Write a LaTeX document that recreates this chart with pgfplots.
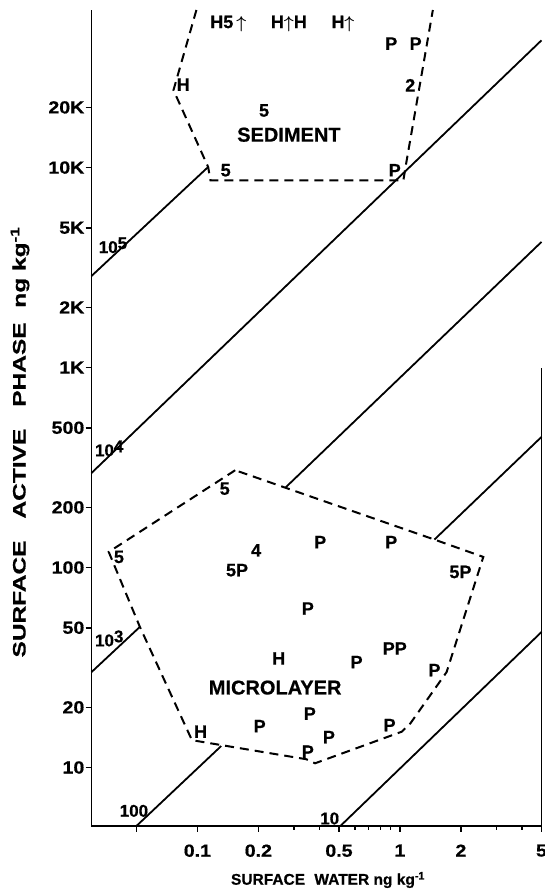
\documentclass[border=0pt]{standalone}
\usepackage{fontspec}
\setmainfont{Liberation Sans}[BoldFeatures={FakeBold=0.6}]
\newfontfamily\tickfont{Liberation Sans}[FakeStretch=1.12, BoldFeatures={FakeBold=0.6}]
\usepackage{graphicx}
\usepackage{pgfplots}
\pgfplotsset{compat=1.18}
\begin{document}
\begin{tikzpicture}
\useasboundingbox (-91.5pt,-67pt) rectangle (453.5pt,826pt);
\begin{axis}[
  at={(0pt,0pt)}, anchor=south west,
  scale only axis, width=450pt, height=816pt,
  xmode=log, ymode=log,
  xmin=0.03, xmax=5, ymin=5.1, ymax=61400,
  axis x line*=bottom, axis y line*=left,
  axis line style={line width=1.8pt},
  xtick={0.05,0.1,0.2,0.5,1,2,5}, xticklabels={,0.1,0.2,0.5,1,2,5},
  minor xtick={0.3,0.4,0.6,0.7,0.8,0.9,3,4},
  ytick={10,20,50,100,200,500,1000,2000,5000,10000,20000},
  yticklabels={10,20,50,100,200,500,1K,2K,5K,10K,20K},
  tick align=outside, major tick length=6pt, minor tick length=4pt,
  every tick/.style={line width=1.6pt, black},
  tick label style={font=\tickfont\fontsize{17.5}{19}\selectfont\bfseries},
  yticklabel style={inner sep=1pt},
  xticklabel style={yshift=-9pt},
  xlabel={SURFACE\hspace{0.6em}WATER ng kg\textsuperscript{-1}},
  ylabel={\scalebox{1.36}[1]{SURFACE\hspace{0.9em}ACTIVE\hspace{0.9em}PHASE\hspace{0.6em}ng kg\textsuperscript{-1}}},
  every axis x label/.style={at={(axis description cs:0.5256,-0.0662)}, anchor=center, font=\fontsize{15.5}{17}\selectfont\bfseries},
  every axis y label/.style={at={(axis description cs:-0.159,0.4706)}, anchor=center, rotate=90, font=\fontsize{18}{20}\selectfont\bfseries},
  clip=false,
  txt/.style={only marks, mark=none, point meta=explicit symbolic, nodes near coords,
    every node near coord/.append style={anchor=center, inner sep=0pt, font=\fontsize{18}{20}\selectfont\bfseries}},
]
% ratio lines
\addplot[line width=1.8pt, black] coordinates {(0.03,2870) (0.113,10070)};
\addplot[line width=1.8pt, black] coordinates {(0.03,297) (5,43300)};
\addplot[line width=1.8pt, black] coordinates {(0.03,30) (0.052,50.5)};
\addplot[line width=1.8pt, black] coordinates {(0.272,251) (5,4250)};
\addplot[line width=1.8pt, black] coordinates {(0.050,5.1) (0.131,12.8)};
\addplot[line width=1.8pt, black] coordinates {(1.48,138) (5,450)};
\addplot[line width=1.8pt, black] coordinates {(0.508,5.1) (5,47.6)};
% sediment envelope
\addplot[line width=2pt, black, dash pattern=on 9pt off 6pt] coordinates {
 (0.0989,61400) (0.0762,24400) (0.113,10070) (0.116,8640) (1.04,8640) (1.07,10300) (1.454,61400)};
% microlayer envelope
\addplot[line width=2pt, black, dash pattern=on 9pt off 6pt] coordinates {
 (0.1537,306.6) (0.0365,119.7) (0.052,50.5) (0.094,13.7) (0.134,12.9) (0.345,11.0) (0.381,10.5)
 (1.02,15.1) (1.125,16.6) (1.70,30) (2.58,113) (1.48,138) (0.1537,306.6)};
% right spine (partial)
\draw[line width=1.8pt] (axis cs:5,5.1) -- (axis cs:5,1000);
% sediment points
\addplot[txt] coordinates {
 (0.142,52500) [H5\,{\boldmath$\uparrow$}]
 (0.283,52500) [H{\boldmath$\uparrow$}H]
 (0.523,52500) [H{\boldmath$\uparrow$}]
 (0.906,41700) [P]
 (1.195,41700) [P]
 (0.0851,26000) [H]
 (1.124,25800) [2]
 (0.2134,19300) [5]
 (0.138,9700) [5]
 (0.943,9700) [P]
};
% microlayer points
\addplot[txt] coordinates {
 (0.041,113) [5]
 (0.157,97) [5P]
 (0.195,122) [4]
 (0.404,134) [P]
 (0.906,134) [P]
 (1.99,95) [5P]
 (0.1365,248) [5]
 (0.351,62.4) [P]
 (0.252,35.1) [H]
 (0.611,33.7) [P]
 (0.943,39.4) [PP]
 (1.48,30.7) [P]
 (0.359,18.6) [P]
 (0.203,16.1) [P]
 (0.1037,15.1) [H]
 (0.446,14.2) [P]
 (0.351,12.0) [P]
 (0.889,16.3) [P]
};
% region names
\addplot[txt, every node near coord/.append style={font=\fontsize{20}{22}\selectfont\bfseries}] coordinates {
 (0.283,14600) [SEDIMENT]
 (0.242,25.1) [MICROLAYER]
};
% ratio line labels
\addplot[txt, every node near coord/.append style={font=\fontsize{17}{19}\selectfont\bfseries}] coordinates {
 (0.0383,4090) [10\raisebox{4pt}{5}]
 (0.0367,394) [10\raisebox{4pt}{4}]
 (0.0367,44.2) [10\raisebox{4pt}{3}]
 (0.0486,6.07) [100]
 (0.45,5.56) [10]
};
\end{axis}
\end{tikzpicture}
\end{document}
